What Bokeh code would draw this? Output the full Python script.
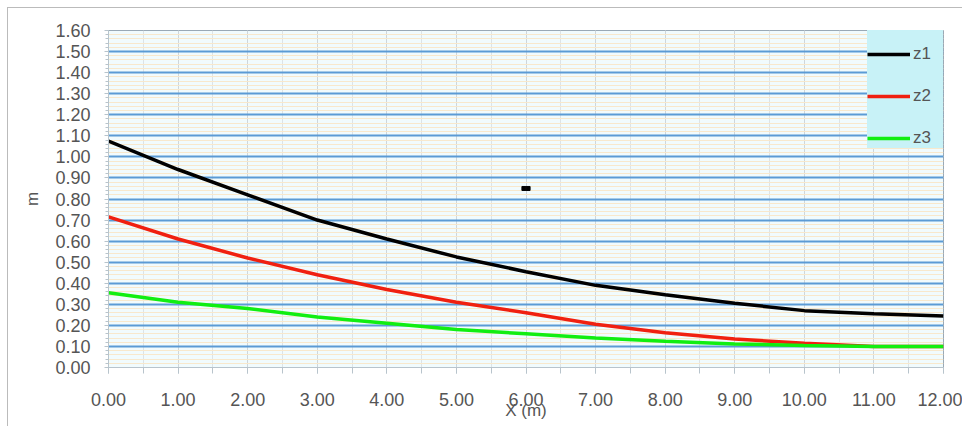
from bokeh.plotting import figure
from bokeh.models import FixedTicker, Legend, LegendItem, CustomJSTickFormatter
from bokeh.embed import file_html
from bokeh.resources import INLINE

x_vals = [0, 1, 2, 3, 4, 5, 6, 7, 8, 9, 10, 11, 12]
z1 = [1.075, 0.94, 0.82, 0.70, 0.61, 0.525, 0.455, 0.39, 0.345, 0.305, 0.27, 0.255, 0.245]
z2 = [0.715, 0.61, 0.52, 0.44, 0.37, 0.31, 0.26, 0.205, 0.165, 0.135, 0.115, 0.10, 0.10]
z3 = [0.355, 0.31, 0.28, 0.24, 0.21, 0.18, 0.16, 0.14, 0.125, 0.112, 0.105, 0.10, 0.10]
marker_x = [5.97, 6.03]
marker_y = [0.85, 0.85]

y_ticks = [round(i * 0.1, 2) for i in range(17)]
y_minor = [round(i * 0.02, 2) for i in range(81)]
x_ticks = list(range(13))
x_minor = [i * 0.5 for i in range(25)]

p = figure(width=955, height=419, output_backend="svg", toolbar_location=None,
           x_range=(0, 12), y_range=(0, 1.6),
           min_border_left=100, min_border_top=22, min_border_right=20, min_border_bottom=60)
p.styles = {"border-left": "1px solid #bbbbbb", "border-top": "1px solid #bbbbbb",
            "margin-left": "7px", "margin-top": "7px"}
p.background_fill_color = "#f1fbfd"
p.border_fill_color = "white"
p.outline_line_color = "#9aa9b5"

p.xaxis.ticker = FixedTicker(ticks=x_ticks, minor_ticks=x_minor)
p.yaxis.ticker = FixedTicker(ticks=y_ticks, minor_ticks=y_minor)
fmt = CustomJSTickFormatter(code="return tick.toFixed(2);")
p.xaxis.formatter = fmt
p.yaxis.formatter = fmt

for ax in (p.xaxis, p.yaxis):
    ax.axis_line_color = "#b8c4cc"
    ax.major_tick_line_color = "#b8c4cc"
    ax.minor_tick_line_color = "#b8c4cc"
    ax.major_label_text_font = "Liberation Sans"
    ax.major_label_text_font_size = "18px"
    ax.major_label_text_color = "#555555"
    ax.axis_label_text_font = "Liberation Sans"
    ax.axis_label_text_font_size = "17px"
    ax.axis_label_text_color = "#555555"
    ax.axis_label_text_font_style = "normal"

p.xaxis.major_tick_out = 6
p.xaxis.major_tick_in = 0
p.xaxis.minor_tick_out = 6
p.xaxis.minor_tick_in = 0
p.xaxis.major_label_standoff = 19
p.xaxis.axis_label = "X (m)"
p.xaxis.axis_label_standoff = -8

p.yaxis.major_tick_out = 4
p.yaxis.major_tick_in = 0
p.yaxis.minor_tick_out = 3
p.yaxis.minor_tick_in = 0
p.yaxis.major_label_standoff = 14
p.yaxis.axis_label = "m"
p.yaxis.axis_label_standoff = 10

p.ygrid.grid_line_color = "#5b9bd5"
p.ygrid.grid_line_width = 2
p.ygrid.minor_grid_line_color = "#f8e8cc"
p.ygrid.minor_grid_line_width = 1
p.xgrid.grid_line_color = "#cfd6da"
p.xgrid.grid_line_width = 1
p.xgrid.minor_grid_line_color = "#dde3e6"
p.xgrid.minor_grid_line_width = 1

r1 = p.line(x_vals, z1, line_color="black", line_width=3.5)
r2 = p.line(x_vals, z2, line_color="#f02010", line_width=3.5)
r3 = p.line(x_vals, z3, line_color="#11ee11", line_width=3.5)
p.scatter(marker_x, marker_y, marker="square", size=4, color="black")

legend = Legend(items=[LegendItem(label="z1", renderers=[r1]),
                       LegendItem(label="z2", renderers=[r2]),
                       LegendItem(label="z3", renderers=[r3])],
                location="top_right", title=" ")
legend.title_text_font_size = "12px"
legend.title_standoff = 0
legend.background_fill_color = "#c8f2f7"
legend.background_fill_alpha = 1
legend.border_line_color = None
legend.margin = 0
legend.padding = 9
legend.spacing = 22
legend.glyph_width = 43
legend.glyph_height = 20
legend.label_height = 20
legend.label_width = 30
legend.label_standoff = 3
legend.label_text_font = "Liberation Sans"
legend.label_text_font_size = "17px"
legend.label_text_color = "#555555"
p.add_layout(legend)

open("out.html", "w").write(file_html(p, INLINE))
